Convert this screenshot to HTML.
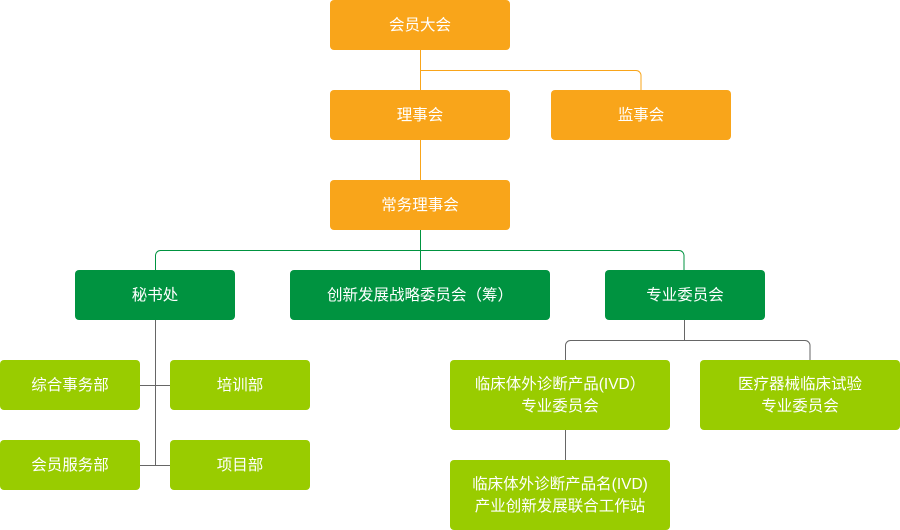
<!DOCTYPE html>
<html><head><meta charset="utf-8"><style>
body{margin:0;width:900px;height:530px;background:#fff;position:relative;overflow:hidden;font-family:"Liberation Sans","Noto Sans CJK SC",sans-serif}
.b{position:absolute;display:flex;align-items:center;justify-content:center;text-align:center;color:#fff;font-size:15.5px;line-height:22px;border-radius:4px;box-sizing:border-box;padding-top:2px}
.o{background:#F9A51A}.g{background:#009340}.l{background:#99CC00}
svg{position:absolute;left:0;top:0}
</style></head><body>
<svg width="900" height="530" fill="none">
<g stroke="#F9A51A" stroke-width="1">
<path d="M420.5 50V90M420.5 70.5H636a5 5 0 0 1 5 5V90M420.5 140V180"/>
</g>
<g stroke="#009340" stroke-width="1">
<path d="M420.5 230V270M160 250.5H679a5 5 0 0 1 5 5V270M155.5 270V255.5a5 5 0 0 1 5-5"/>
</g>
<g stroke="#666" stroke-width="1">
<path d="M155.5 320V465.5M140 385.5H170M140 465.5H170M684.5 320V340.5M570 340.5H805a5 5 0 0 1 5 5V360M565.5 360V345.5a5 5 0 0 1 5-5M565.5 430V460"/>
</g>
</svg>
<div class="b o" style="left:330px;top:0;width:180px;height:50px">会员大会</div>
<div class="b o" style="left:330px;top:90px;width:180px;height:50px">理事会</div>
<div class="b o" style="left:551px;top:90px;width:180px;height:50px">监事会</div>
<div class="b o" style="left:330px;top:180px;width:180px;height:50px">常务理事会</div>
<div class="b g" style="left:75px;top:270px;width:160px;height:50px">秘书处</div>
<div class="b g" style="left:290px;top:270px;width:260px;height:50px">创新发展战略委员会（筹）</div>
<div class="b g" style="left:605px;top:270px;width:160px;height:50px">专业委员会</div>
<div class="b l" style="left:0;top:360px;width:140px;height:50px">综合事务部</div>
<div class="b l" style="left:170px;top:360px;width:140px;height:50px">培训部</div>
<div class="b l" style="left:0;top:440px;width:140px;height:50px">会员服务部</div>
<div class="b l" style="left:170px;top:440px;width:140px;height:50px">项目部</div>
<div class="b l" style="left:450px;top:360px;width:220px;height:70px">临床体外诊断产品(IVD）<br>专业委员会</div>
<div class="b l" style="left:700px;top:360px;width:200px;height:70px">医疗器械临床试验<br>专业委员会</div>
<div class="b l" style="left:450px;top:460px;width:220px;height:70px">临床体外诊断产品名(IVD)<br>产业创新发展联合工作站</div>
</body></html>
